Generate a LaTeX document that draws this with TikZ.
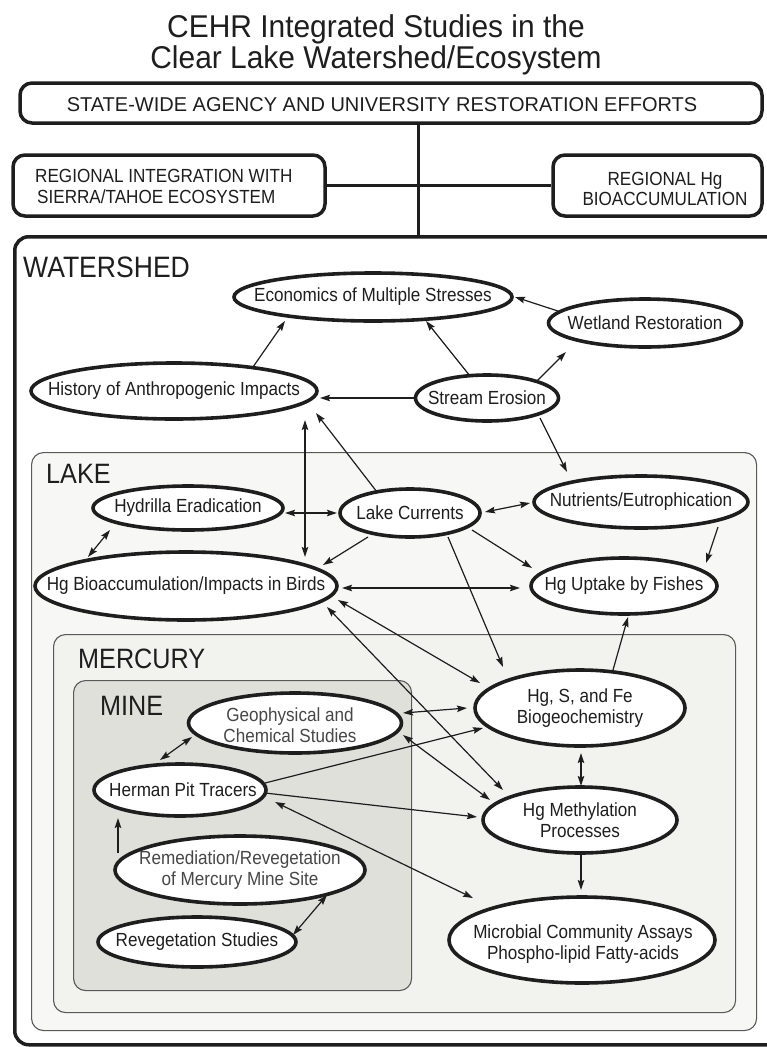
\documentclass[tikz,border=0pt]{standalone}
\usepackage{fontspec}
\setmainfont{Liberation Sans}[FakeStretch=0.9]
\newfontfamily\titlefont{Liberation Sans}[FakeStretch=0.95]
\newfontfamily\widefont{Liberation Sans}
\usetikzlibrary{calc,shapes.geometric,arrows.meta}
\definecolor{ink}{RGB}{30,30,30}
\definecolor{lakefill}{RGB}{247,247,245}
\definecolor{merfill}{RGB}{242,242,239}
\definecolor{minefill}{RGB}{222,224,217}
\begin{document}
\begin{tikzpicture}[x=1pt,y=-1pt,
  ell/.style={ellipse, draw=ink, line width=3.6pt, fill=white, inner sep=0pt},
  lbl/.style={font=\fontsize{19}{21}\selectfont, text=ink, align=center, inner sep=0pt},
  minelbl/.style={lbl, text=black!72},
  tip/.tip={Stealth[length=10pt,width=6.5pt,inset=1.5pt]},
  arr/.style={line width=1.2pt, draw=ink, -tip},
  darr/.style={line width=1.2pt, draw=ink, tip-tip},
  bigbox/.style={draw=ink, line width=3.5pt, rounded corners=12pt, inner sep=0pt},
  region/.style={draw=black!65, line width=1.1pt, rounded corners=12pt, anchor=north west, inner sep=0pt},
  sect/.style={font=\fontsize{28}{30}\selectfont, anchor=base west, inner sep=0pt, text=ink},
  boxtxt/.style={font=\fontsize{19}{21}\selectfont, inner sep=0pt, text=ink},
  ttl/.style={font=\titlefont\fontsize{31.5}{33}\selectfont, inner sep=0pt, text=ink, anchor=base},
  thickline/.style={draw=ink, line width=3pt}
]
\useasboundingbox (0,0) rectangle (767,1047);
\fill[white] (0,0) rectangle (767,1047);

% title
\node[ttl] (title1) at (376,37) {CEHR Integrated Studies in the};
\node[ttl] (title2) at (376,68) {Clear Lake Watershed/Ecosystem};

% regions
\node[bigbox, fill=white, anchor=north west, minimum width=790, minimum height=808, rounded corners=14pt] (ws) at (13,235) {};
\node[region, fill=lakefill, minimum width=725, minimum height=578] (lake) at (31,452) {};
\node[region, fill=merfill, minimum width=682, minimum height=378] (mer) at (53,634) {};
\node[region, fill=minefill, minimum width=338, minimum height=310] (mine) at (73,680) {};

\node[sect, font=\fontsize{29.5}{31}\selectfont] (wslabel) at (23,277) {WATERSHED};
\node[sect] (lakelabel) at (46,483) {LAKE};
\node[sect] (merlabel) at (78,668) {MERCURY};
\node[sect] (minelabel) at (100,715) {MINE};

% top boxes
\node[bigbox, minimum width=742, minimum height=40] (topbox) at (391,103) {};
\node[boxtxt, anchor=base, font=\widefont\fontsize{20}{22}\selectfont] (toptext) at (382,111) {STATE-WIDE AGENCY AND UNIVERSITY RESTORATION EFFORTS};
\node[bigbox, minimum width=312, minimum height=61] (leftbox) at (169,185.5) {};
\node[boxtxt, anchor=base west] (lefttext1) at (35,182) {REGIONAL INTEGRATION WITH};
\node[boxtxt, anchor=base west] (lefttext2) at (37,203) {SIERRA/TAHOE ECOSYSTEM};
\node[bigbox, minimum width=209, minimum height=61] (rightbox) at (657.5,185.5) {};
\node[boxtxt, anchor=base] (righttext1) at (665,185) {REGIONAL Hg};
\node[boxtxt, anchor=base] (righttext2) at (665,205) {BIOACCUMULATION};

\coordinate (vx) at (418,0);
\draw[thickline] (topbox.south -| vx) -- (ws.north -| vx);
\draw[thickline] (leftbox.east) -- (rightbox.west);

% ellipse node positions
\coordinate (econ) at (373,297);
\coordinate (wetland) at (645,323);
\coordinate (history) at (174,391);
\coordinate (stream) at (487,398);
\coordinate (hydrilla) at (188,508);
\coordinate (lakecur) at (410,513);
\coordinate (nutrients) at (641,502);
\coordinate (birds) at (186,586);
\coordinate (fishes) at (624,586);
\coordinate (geo) at (295,723);
\coordinate (hgsfe) at (580,708);
\coordinate (herman) at (180,790);
\coordinate (methyl) at (580,820);
\coordinate (remed) at (240,870);
\coordinate (reveg) at (197,942);
\coordinate (microbial) at (582,940);

% connectors
\draw[arr] ($(history)+(79,-24)$) -- ($(econ)+(-88,24)$);
\draw[arr] ($(stream)+(-17,-22)$) -- ($(econ)+(53,24)$);
\draw[arr] ($(wetland)+(-78,-9)$) -- ($(econ)+(142,0)$);
\draw[arr] ($(stream)+(50,-17)$) -- ($(wetland)+(-79,29)$);
\draw[arr] ($(stream)+(-72,0)$) -- ($(history)+(146,7)$);
\draw[arr] ($(stream)+(53,20)$) -- ($(nutrients)+(-74,-30)$);
\draw[darr] ($(birds)+(119,-29)$) -- ($(history)+(131,29)$);
\draw[arr] ($(lakecur)+(-33,-21)$) -- ($(history)+(142,22)$);
\draw[darr] ($(hydrilla)+(97,5)$) -- ($(lakecur)+(-73,0)$);
\draw[darr] ($(lakecur)+(75,-1)$) -- ($(nutrients)+(-111,1)$);
\draw[darr] ($(hydrilla)+(-78,22)$) -- ($(birds)+(-98,-29)$);
\draw[arr] ($(lakecur)+(-42,24)$) -- ($(birds)+(137,-21)$);
\draw[arr] ($(lakecur)+(62,17)$) -- ($(fishes)+(-92,-18)$);
\draw[arr] ($(nutrients)+(77,25)$) -- ($(fishes)+(82,-23)$);
\draw[darr] ($(birds)+(156,2)$) -- ($(fishes)+(-104,2)$);
\draw[arr] ($(lakecur)+(38,24)$) -- ($(hgsfe)+(-77,-41)$);
\draw[arr] ($(hgsfe)+(33,-38)$) -- ($(fishes)+(4,31)$);
\draw[darr] ($(birds)+(152,14)$) -- ($(hgsfe)+(-100,-25)$);
\draw[darr] ($(birds)+(141,21)$) -- ($(methyl)+(-77,-30)$);
\draw[darr] ($(geo)+(108,-10)$) -- ($(hgsfe)+(-113,0)$);
\draw[darr] ($(geo)+(108,12)$) -- ($(methyl)+(-90,-20)$);
\draw[darr] ($(geo)+(-103,14)$) -- ($(herman)+(-20,-30)$);
\draw[arr] ($(herman)+(85,-7)$) -- ($(hgsfe)+(-97,20)$);
\draw[arr] ($(herman)+(85,3)$) -- ($(methyl)+(-103,-3)$);
\draw[darr] ($(microbial)+(-109,-42)$) -- ($(herman)+(95,12)$);
\draw[arr] ($(remed)+(-122,-17)$) -- ($(herman)+(-62,28)$);
\draw[darr] ($(reveg)+(96,-7)$) -- ($(remed)+(87,25)$);
\draw[darr] ($(hgsfe)+(1,45)$) -- ($(methyl)+(1,-34)$);
\draw[arr] ($(methyl)+(1,35)$) -- ($(microbial)+(-1,-50)$);

% ellipses
\node[ell, minimum width=278, minimum height=48] (econ-e) at (econ) {};
\node[lbl] (econ-t) at (econ) {Economics of Multiple Stresses};
\node[ell, minimum width=193, minimum height=48] (wetland-e) at (wetland) {};
\node[lbl] (wetland-t) at (wetland) {Wetland Restoration};
\node[ell, minimum width=286, minimum height=56] (history-e) at (history) {};
\node[lbl] (history-t) at (history) {History of Anthropogenic Impacts};
\node[ell, minimum width=143, minimum height=46] (stream-e) at (stream) {};
\node[lbl] (stream-t) at (stream) {Stream Erosion};
\node[ell, minimum width=190, minimum height=44] (hydrilla-e) at (hydrilla) {};
\node[lbl] (hydrilla-t) at (hydrilla) {Hydrilla Eradication};
\node[ell, minimum width=140, minimum height=48] (lakecur-e) at (lakecur) {};
\node[lbl] (lakecur-t) at (lakecur) {Lake Currents};
\node[ell, minimum width=214, minimum height=52] (nutrients-e) at (nutrients) {};
\node[lbl] (nutrients-t) at (nutrients) {Nutrients/Eutrophication};
\node[ell, minimum width=302, minimum height=68] (birds-e) at (birds) {};
\node[lbl] (birds-t) at (birds) {Hg Bioaccumulation/Impacts in Birds};
\node[ell, minimum width=186, minimum height=56] (fishes-e) at (fishes) {};
\node[lbl] (fishes-t) at (fishes) {Hg Uptake by Fishes};
\node[ell, minimum width=213, minimum height=60] (geo-e) at (geo) {};
\node[minelbl] (geo-t) at (290,725) {Geophysical and\\Chemical Studies};
\node[ell, minimum width=210, minimum height=76] (hgsfe-e) at (hgsfe) {};
\node[lbl] (hgsfe-t) at (hgsfe) {Hg, S, and Fe\\Biogeochemistry};
\node[ell, minimum width=172, minimum height=52] (herman-e) at (herman) {};
\node[lbl] (herman-t) at (183,790) {Herman Pit Tracers};
\node[ell, minimum width=194, minimum height=66] (methyl-e) at (methyl) {};
\node[lbl] (methyl-t) at (methyl) {Hg Methylation\\Processes};
\node[ell, minimum width=250, minimum height=68] (remed-e) at (remed) {};
\node[minelbl] (remed-t) at (remed) {Remediation/Revegetation\\of Mercury Mine Site};
\node[ell, minimum width=198, minimum height=50] (reveg-e) at (reveg) {};
\node[lbl] (reveg-t) at (reveg) {Revegetation Studies};
\node[ell, minimum width=266, minimum height=86] (microbial-e) at (microbial) {};
\node[lbl] (microbial-t) at (583,944) {Microbial Community Assays\\Phospho-lipid Fatty-acids};
\end{tikzpicture}
\end{document}
